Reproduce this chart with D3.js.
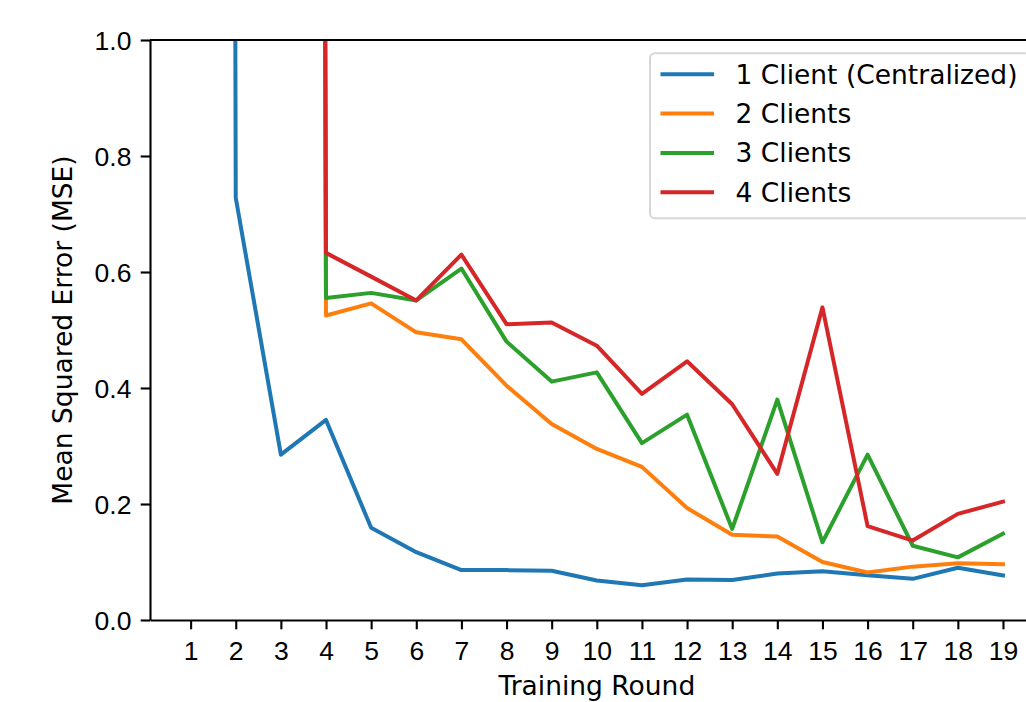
<!DOCTYPE html>
<html>
<head>
<meta charset="utf-8">
<script src="https://cdn.jsdelivr.net/npm/d3@7"></script>
<style>
  body { margin: 0; background: #fff; }
  svg { display: block; font-family: "DejaVu Sans", sans-serif; }
  .axis text { font-size: 26.5px; fill: #000; }
  .axisText { font-size: 26.5px; fill: #000; }
</style>
</head>
<body>
<script>
// ---- data ----
const rounds = [1, 2, 3, 4, 5, 6, 7, 8, 9, 10, 11, 12, 13, 14, 15, 16, 17, 18, 19];
const oneClient = [30.5, 0.728, 0.285, 0.345, 0.159, 0.117, 0.086, 0.086, 0.085, 0.068, 0.060, 0.070, 0.069, 0.080, 0.084, 0.077, 0.071, 0.090, 0.077];
const twoClients = [null, null, 21.4, 0.525, 0.546, 0.496, 0.484, 0.404, 0.338, 0.295, 0.264, 0.193, 0.147, 0.144, 0.100, 0.082, 0.092, 0.098, 0.096];
const threeClients = [null, null, 24.8, 0.555, 0.564, 0.551, 0.606, 0.480, 0.411, 0.427, 0.305, 0.354, 0.157, 0.380, 0.134, 0.285, 0.128, 0.108, 0.149];
const fourClients = [null, null, 27.3, 0.633, 0.592, 0.551, 0.630, 0.510, 0.513, 0.473, 0.390, 0.446, 0.372, 0.252, 0.539, 0.162, 0.137, 0.183, 0.204];
const seriesNames = ["1 Client (Centralized)", "2 Clients", "3 Clients", "4 Clients"];
const seriesColors = ["#1f77b4", "#ff7f0e", "#2ca02c", "#d62728"];
const yTicks = [0.0, 0.2, 0.4, 0.6, 0.8, 1.0];

// ---- layout ----
const svgWidth = 1026;
const svgHeight = 702;
const plot = { left: 150, right: 1043.6, top: 40, bottom: 620 };
const fontSize = 26.5;

const svg = d3.select("body").append("svg")
  .attr("width", svgWidth)
  .attr("height", svgHeight);

const x = d3.scaleLinear().domain([0.1, 19.9]).range([plot.left, plot.right]);
const y = d3.scaleLinear().domain([0, 1]).range([plot.bottom, plot.top]);

svg.append("clipPath").attr("id", "plotClip")
  .append("rect")
  .attr("x", plot.left).attr("y", plot.top)
  .attr("width", plot.right - plot.left)
  .attr("height", plot.bottom - plot.top);

// ---- lines ----
const allSeries = [oneClient, twoClients, threeClients, fourClients];
const line = d3.line()
  .defined((d) => d.v !== null)
  .x((d) => x(d.r))
  .y((d) => y(d.v));

const lineGroup = svg.append("g").attr("clip-path", "url(#plotClip)");
allSeries.forEach((vals, i) => {
  const pts = rounds.map((r, j) => ({ r: r, v: vals[j] }));
  lineGroup.append("path")
    .datum(pts)
    .attr("d", line)
    .attr("fill", "none")
    .attr("stroke", seriesColors[i])
    .attr("stroke-width", 4)
    .attr("stroke-linejoin", "round")
    .attr("stroke-linecap", "square");
});

// ---- axes ----
const leftAxis = d3.axisLeft(y)
  .tickValues(yTicks)
  .tickFormat(d3.format(".1f"))
  .tickSizeInner(9.3)
  .tickSizeOuter(0)
  .tickPadding(9.3);
const bottomAxis = d3.axisBottom(x)
  .tickValues(rounds)
  .tickFormat(d3.format("d"))
  .tickSizeInner(9.3)
  .tickSizeOuter(0)
  .tickPadding(9.3);

const gy = svg.append("g").attr("class", "axis")
  .attr("transform", `translate(${plot.left},0)`)
  .call(leftAxis);
const gx = svg.append("g").attr("class", "axis")
  .attr("transform", `translate(0,${plot.bottom})`)
  .call(bottomAxis);

[gx, gy].forEach((g) => {
  g.selectAll("path, line").attr("stroke", "#000").attr("stroke-width", 2.1);
  g.selectAll("text").attr("font-family", null).attr("font-size", null);
});
gy.selectAll("text").attr("dy", "0.37em");
gx.selectAll("text").attr("dy", "0.8em");

// top spine
svg.append("line")
  .attr("x1", plot.left).attr("x2", plot.right)
  .attr("y1", plot.top).attr("y2", plot.top)
  .attr("stroke", "#000").attr("stroke-width", 2.1);

// axis titles
svg.append("text")
  .attr("class", "axisText")
  .attr("x", (plot.left + plot.right) / 2)
  .attr("y", 695)
  .attr("text-anchor", "middle")
  .text("Training Round");

svg.append("text")
  .attr("class", "axisText")
  .attr("transform", `translate(72, ${(plot.top + plot.bottom) / 2}) rotate(-90)`)
  .attr("text-anchor", "middle")
  .text("Mean Squared Error (MSE)");

// ---- legend ----
const legend = svg.append("g");
legend.append("rect")
  .attr("x", 650).attr("y", 53.3)
  .attr("width", 380).attr("height", 165)
  .attr("rx", 5)
  .attr("fill", "#fff").attr("fill-opacity", 0.8)
  .attr("stroke", "#d6d6d6").attr("stroke-width", 2);

seriesNames.forEach((name, i) => {
  const cy = 74.3 + i * 39.3;
  legend.append("line")
    .attr("x1", 660.5).attr("x2", 714)
    .attr("y1", cy).attr("y2", cy)
    .attr("stroke", seriesColors[i])
    .attr("stroke-width", 4);
  legend.append("text")
    .attr("class", "axisText")
    .attr("x", 735.5).attr("y", cy)
    .attr("dy", "0.36em")
    .text(name);
});
</script>
</body>
</html>
